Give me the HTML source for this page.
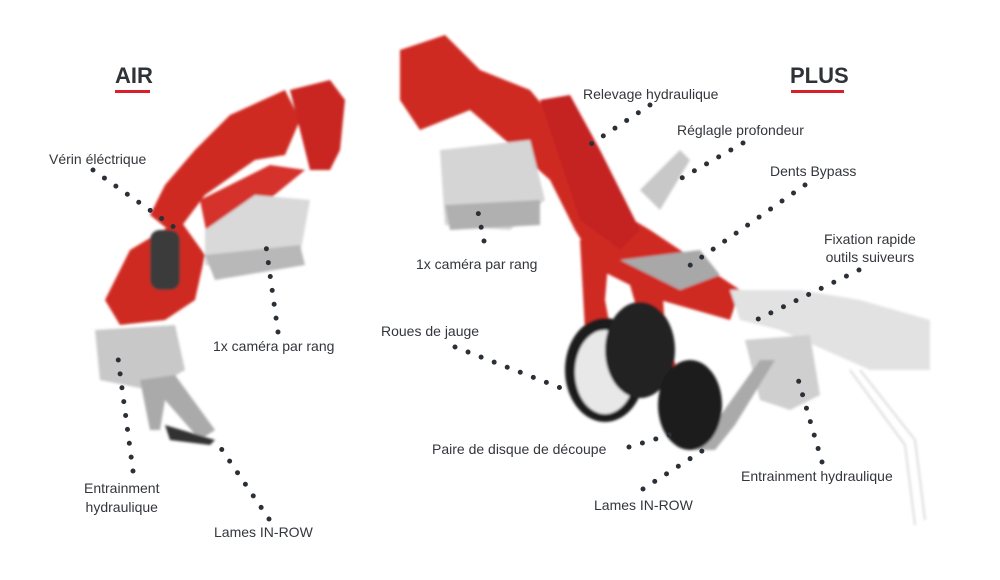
<!DOCTYPE html>
<html><head><meta charset="utf-8"><style>
html,body{margin:0;padding:0;background:#fff}
#c{position:relative;width:1000px;height:580px;overflow:hidden;font-family:"Liberation Sans",sans-serif;color:#33363b}
.t{position:absolute;font-size:14px;line-height:18px;white-space:nowrap}
.h{position:absolute;font-size:22px;font-weight:bold;color:#2f3338}
.u{position:absolute;height:3px;background:#d81f2a}
svg{position:absolute;left:0;top:0}
</style></head><body><div id="c">
<svg width="1000" height="580">
<defs><filter id="b"><feGaussianBlur stdDeviation="1.2"/></filter></defs>
<g filter="url(#b)">
<polygon points="150,215 175,235 205,195 255,160 285,155 300,120 285,90 230,115 195,150 165,185" fill="#cf2a24"/>
<polygon points="290,90 330,80 345,100 340,150 330,170 310,170 300,130" fill="#c92622"/>
<polygon points="200,200 270,165 305,170 250,215 210,250" fill="#d4302a"/>
<polygon points="130,250 180,220 205,255 195,300 165,320 120,325 105,300" fill="#cf2a24"/>
<polygon points="205,230 255,195 310,200 300,255 250,270 205,265" fill="#d9d9d9"/>
<polygon points="205,255 300,245 305,265 215,280" fill="#b8b8b8"/>
<rect x="150" y="230" width="30" height="60" rx="10" fill="#3a3a3a"/>
<polygon points="95,330 175,325 185,370 150,390 100,380" fill="#c8c8c8"/>
<polygon points="140,380 175,375 215,430 200,440 165,400 160,430 150,430" fill="#aaa"/>
<polygon points="165,425 215,440 210,445 170,440" fill="#333"/>
</g>
<g filter="url(#b)">
<polygon points="400,50 445,35 480,70 530,90 555,120 590,160 600,200 650,230 740,290 730,320 660,300 600,270 575,230 550,180 505,140 470,110 420,130 400,100" fill="#cf2a24"/>
<polygon points="540,100 570,95 600,150 640,230 620,250 580,220 560,160" fill="#c52420"/>
<polygon points="580,240 610,240 605,300 620,380 600,390 585,330" fill="#cf2a24"/>
<polygon points="620,250 660,250 665,330 680,380 660,390 640,320" fill="#cf2a24"/>
<polygon points="440,150 530,140 545,200 510,230 445,225" fill="#d5d5d5"/>
<polygon points="445,205 540,200 540,225 450,230" fill="#b0b0b0"/>
<polygon points="640,190 680,150 690,160 660,210" fill="#c8c8c8"/>
<polygon points="620,260 700,250 720,275 680,290" fill="#a8a8a8"/>
<polygon points="730,290 800,290 860,300 930,320 930,370 870,370 780,330 740,320" fill="#e2e2e2"/>
<polygon points="745,340 810,335 820,395 790,410 760,400" fill="#cfcfcf"/>
<polygon points="760,360 775,360 735,425 715,450 690,450 710,430" fill="#aaa"/>
<ellipse cx="605" cy="370" rx="40" ry="52" fill="#1c1c1c"/>
<ellipse cx="605" cy="372" rx="30" ry="42" fill="#e8e8e8"/>
<ellipse cx="640" cy="350" rx="35" ry="48" fill="#202020"/>
<ellipse cx="690" cy="405" rx="32" ry="45" fill="#1c1c1c"/>
<polyline points="860,370 915,440 925,520" fill="none" stroke="#ddd" stroke-width="2"/>
<polyline points="850,370 905,445 915,525" fill="none" stroke="#ddd" stroke-width="2"/>
</g>
<g stroke="#2b3037" stroke-width="5" stroke-linecap="round" stroke-dasharray="0 14" fill="none">
<line x1="93" y1="170" x2="178" y2="230"/>
<line x1="278" y1="332" x2="266" y2="246"/>
<line x1="133" y1="471" x2="118" y2="358"/>
<line x1="269" y1="519" x2="218" y2="444"/>
<line x1="650" y1="105" x2="582" y2="150"/>
<line x1="743" y1="143" x2="680" y2="179"/>
<line x1="805" y1="185" x2="679" y2="273"/>
<line x1="859" y1="270" x2="752" y2="322"/>
<line x1="484" y1="241" x2="478" y2="212"/>
<line x1="455" y1="347" x2="566" y2="390"/>
<line x1="629" y1="447" x2="679" y2="432"/>
<line x1="643" y1="489" x2="702" y2="451"/>
<line x1="822" y1="462" x2="796" y2="372"/>
</g>
</svg>
<div class="h" style="left:115px;top:63px">AIR</div>
<div class="u" style="left:115px;top:90px;width:35px"></div>
<div class="h" style="left:790px;top:63px">PLUS</div>
<div class="u" style="left:791px;top:90px;width:53px"></div>
<div class="t" style="left:49px;top:150px">Vérin éléctrique</div>
<div class="t" style="left:213px;top:337px">1x caméra par rang</div>
<div class="t" style="left:84px;top:479px;text-align:center;line-height:19px">Entrainment<br>hydraulique</div>
<div class="t" style="left:214px;top:523px">Lames IN-ROW</div>
<div class="t" style="left:583px;top:85px">Relevage hydraulique</div>
<div class="t" style="left:677px;top:121px">Réglagle profondeur</div>
<div class="t" style="left:770px;top:162px">Dents Bypass</div>
<div class="t" style="left:824px;top:230px;text-align:center">Fixation rapide<br>outils suiveurs</div>
<div class="t" style="left:416px;top:255px">1x caméra par rang</div>
<div class="t" style="left:381px;top:322px">Roues de jauge</div>
<div class="t" style="left:432px;top:440px">Paire de disque de découpe</div>
<div class="t" style="left:741px;top:467px">Entrainment hydraulique</div>
<div class="t" style="left:594px;top:496px">Lames IN-ROW</div>
</div></body></html>
